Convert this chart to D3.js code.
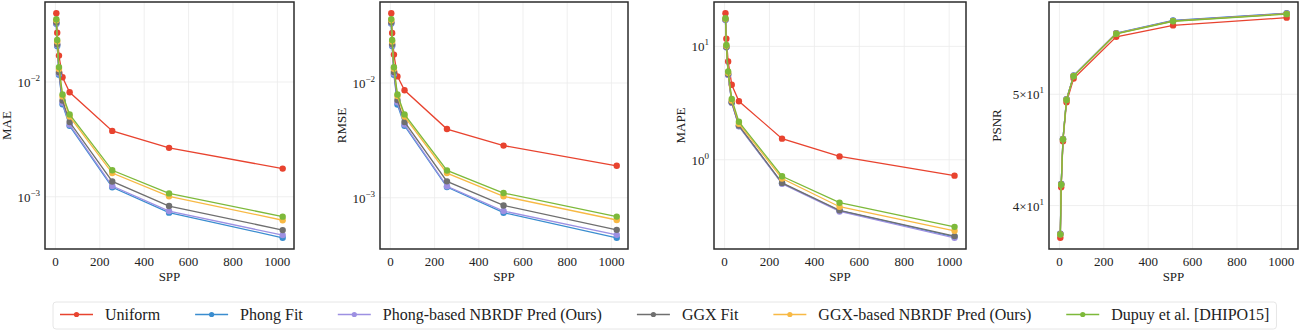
<!DOCTYPE html>
<html>
<head>
<meta charset="utf-8">
<script src="https://cdn.jsdelivr.net/npm/d3@7"></script>
<style>
  body { margin: 0; background: #fff; }
  text { font-family: "Liberation Serif", "Times New Roman", serif; fill: #222; }
</style>
</head>
<body>
<script>
// sample counts on the x axis
var spp = [4, 8, 16, 32, 64, 256, 512, 1024];

var seriesNames = ["Uniform", "Phong Fit", "Phong-based NBRDF Pred (Ours)", "GGX Fit",
                   "GGX-based NBRDF Pred (Ours)", "Dupuy et al. [DHIPO15]"];
var seriesColors = ["#e8432f", "#3a8dcf", "#9d90e2", "#6f6f6f", "#f8b944", "#7db93a"];

// MAE per series (same order as seriesNames)
var maeUniform = [0.0398, 0.0269, 0.0170, 0.0110, 0.00815, 0.00375, 0.00267, 0.00176];
var maePhongFit = [0.0322, 0.0206, 0.0116, 0.0064, 0.00415, 0.00121, 0.000727, 0.000439];
var maePhongPred = [0.0326, 0.0210, 0.0119, 0.0066, 0.00425, 0.00124, 0.00075, 0.000463];
var maeGgxFit = [0.0330, 0.0214, 0.0122, 0.0069, 0.00448, 0.00136, 0.00083, 0.000512];
var maeGgxPred = [0.0345, 0.0226, 0.0130, 0.0075, 0.00500, 0.00161, 0.00101, 0.000624];
var maeDupuy = [0.0353, 0.0233, 0.0135, 0.00778, 0.00522, 0.00170, 0.00107, 0.000671];

var rmseUniform = [0.0406, 0.0273, 0.0177, 0.01143, 0.00865, 0.00397, 0.00285, 0.0019];
var rmsePhongFit = [0.0330, 0.0210, 0.0118, 0.0065, 0.00424, 0.00124, 0.000741, 0.000448];
var rmsePhongPred = [0.0333, 0.0214, 0.0121, 0.0068, 0.00435, 0.00126, 0.000766, 0.000475];
var rmseGgxFit = [0.0338, 0.0218, 0.0125, 0.0071, 0.00458, 0.00139, 0.000857, 0.000525];
var rmseGgxPred = [0.0353, 0.0230, 0.0133, 0.0077, 0.0051, 0.00164, 0.00103, 0.00064];
var rmseDupuy = [0.0361, 0.0237, 0.01375, 0.00794, 0.00533, 0.00173, 0.0011, 0.000685];

var mapeUniform = [19.6, 11.7, 7.35, 4.59, 3.28, 1.535, 1.07, 0.724];
var mapePhongFit = [17.2, 9.85, 5.65, 3.2, 1.98, 0.62, 0.355, 0.209];
var mapePhongPred = [17.2, 9.8, 5.6, 3.18, 1.97, 0.615, 0.35, 0.205];
var mapeGgxFit = [17.3, 9.9, 5.7, 3.22, 2.0, 0.625, 0.358, 0.212];
var mapeGgxPred = [17.5, 10.1, 5.85, 3.33, 2.08, 0.683, 0.385, 0.236];
var mapeDupuy = [17.7, 10.3, 6.01, 3.44, 2.16, 0.715, 0.418, 0.256];

var psnrUniform = [37.5, 41.5, 45.5, 49.2, 51.6, 56.1, 57.4, 58.3];
var psnrPhongFit = [37.8, 41.78, 45.72, 49.52, 51.92, 56.52, 57.97, 58.82];
var psnrPhongPred = [37.8, 41.77, 45.71, 49.5, 51.9, 56.5, 57.95, 58.8];
var psnrGgxFit = [37.78, 41.75, 45.7, 49.48, 51.88, 56.48, 57.92, 58.77];
var psnrGgxPred = [37.76, 41.72, 45.68, 49.46, 51.86, 56.46, 57.9, 58.74];
var psnrDupuy = [37.74, 41.7, 45.66, 49.44, 51.85, 56.44, 57.88, 58.71];

var xTicks = [0, 200, 400, 600, 800, 1000];

// each panel: label, series, y tick values with [value, mantissa, exponent]
var panels = [
  {label: "MAE", left: 45, right: 294, ylx: 7,
   series: [maeUniform, maePhongFit, maePhongPred, maeGgxFit, maeGgxPred, maeDupuy],
   ticks: [[0.01, "", "−2"], [0.001, "", "−3"]]},
  {label: "RMSE", left: 380, right: 628, ylx: 342,
   series: [rmseUniform, rmsePhongFit, rmsePhongPred, rmseGgxFit, rmseGgxPred, rmseDupuy],
   ticks: [[0.01, "", "−2"], [0.001, "", "−3"]]},
  {label: "MAPE", left: 714, right: 966, ylx: 681,
   series: [mapeUniform, mapePhongFit, mapePhongPred, mapeGgxFit, mapeGgxPred, mapeDupuy],
   ticks: [[10, "", "1"], [1, "", "0"]]},
  {label: "PSNR", left: 1049, right: 1298, ylx: 997,
   series: [psnrUniform, psnrPhongFit, psnrPhongPred, psnrGgxFit, psnrGgxPred, psnrDupuy],
   ticks: [[50, "5×", "1"], [40, "4×", "1"]]}
];

var plotTop = 2, plotBottom = 249;

var svg = d3.select("body").append("svg")
    .attr("width", 1300)
    .attr("height", 331);

panels.forEach(function(p) {
  var g = svg.append("g");

  // 5% margins like matplotlib
  var xPad = (d3.max(spp) - d3.min(spp)) * 0.05;
  var x = d3.scaleLinear()
      .domain([d3.min(spp) - xPad, d3.max(spp) + xPad])
      .range([p.left, p.right]);

  var all = d3.merge(p.series);
  var lo = Math.log10(d3.min(all)), hi = Math.log10(d3.max(all));
  var yPad = (hi - lo) * 0.05;
  var y = d3.scaleLog()
      .domain([Math.pow(10, lo - yPad), Math.pow(10, hi + yPad)])
      .range([plotBottom, plotTop]);

  // grid
  g.selectAll(".xgrid").data(xTicks).enter().append("line")
      .attr("x1", function(d) { return x(d); })
      .attr("x2", function(d) { return x(d); })
      .attr("y1", plotTop).attr("y2", plotBottom)
      .attr("stroke", "#ebebeb").attr("stroke-width", 0.8);
  g.selectAll(".ygrid").data(p.ticks).enter().append("line")
      .attr("x1", p.left).attr("x2", p.right)
      .attr("y1", function(d) { return y(d[0]); })
      .attr("y2", function(d) { return y(d[0]); })
      .attr("stroke", "#ebebeb").attr("stroke-width", 0.8);

  // x tick labels
  g.selectAll(".xt").data(xTicks).enter().append("text")
      .attr("x", function(d) { return x(d); })
      .attr("y", 266)
      .attr("text-anchor", "middle")
      .style("font-size", "13px")
      .text(function(d) { return d; });

  // y tick labels with superscripts
  var yt = g.selectAll(".yt").data(p.ticks).enter().append("text")
      .attr("x", p.left - 5)
      .attr("y", function(d) { return y(d[0]) + 5; })
      .attr("text-anchor", "end")
      .style("font-size", "13px");
  yt.append("tspan").text(function(d) { return d[1] + "10"; });
  yt.append("tspan").attr("dy", -6).style("font-size", "9px").text(function(d) { return d[2]; });

  // axis labels
  g.append("text")
      .attr("x", (p.left + p.right) / 2)
      .attr("y", 281)
      .attr("text-anchor", "middle")
      .style("font-size", "13px")
      .text("SPP");
  g.append("text")
      .attr("transform", "translate(" + (p.ylx + 4) + "," + ((plotTop + plotBottom) / 2) + ") rotate(-90)")
      .attr("text-anchor", "middle")
      .style("font-size", "13px")
      .text(p.label);

  var line = d3.line()
      .x(function(d, i) { return x(spp[i]); })
      .y(function(d) { return y(d); });

  p.series.forEach(function(vals, si) {
    g.append("path")
        .datum(vals)
        .attr("fill", "none")
        .attr("stroke", seriesColors[si])
        .attr("stroke-width", 1.3)
        .attr("d", line);
    g.selectAll(".dot" + si).data(vals).enter().append("circle")
        .attr("cx", function(d, i) { return x(spp[i]); })
        .attr("cy", function(d) { return y(d); })
        .attr("r", 3.2)
        .attr("fill", seriesColors[si]);
  });

  // frame
  g.append("rect")
      .attr("x", p.left).attr("y", plotTop)
      .attr("width", p.right - p.left).attr("height", plotBottom - plotTop)
      .attr("fill", "none")
      .attr("stroke", "#2b2b2b").attr("stroke-width", 1.5);
});

// legend
var leg = svg.append("g");
var legBox = leg.append("rect")
    .attr("y", 302).attr("height", 27)
    .attr("rx", 3)
    .attr("fill", "#fff")
    .attr("stroke", "#e0e0e0").attr("stroke-width", 0.8);
var lx = 60, ly = 314.5, lastEnd = 0;
seriesNames.forEach(function(name, i) {
  leg.append("line")
      .attr("x1", lx).attr("x2", lx + 33)
      .attr("y1", ly).attr("y2", ly)
      .attr("stroke", seriesColors[i]).attr("stroke-width", 1.3);
  leg.append("circle")
      .attr("cx", lx + 16.5).attr("cy", ly).attr("r", 2.6)
      .attr("fill", seriesColors[i]);
  var t = leg.append("text")
      .attr("x", lx + 45).attr("y", ly + 5.5)
      .style("font-size", "16px")
      .text(name);
  lastEnd = lx + 45 + t.node().getComputedTextLength();
  lx = lastEnd + 35;
});
legBox.attr("x", 53).attr("width", lastEnd + 7 - 53);
</script>
</body>
</html>
